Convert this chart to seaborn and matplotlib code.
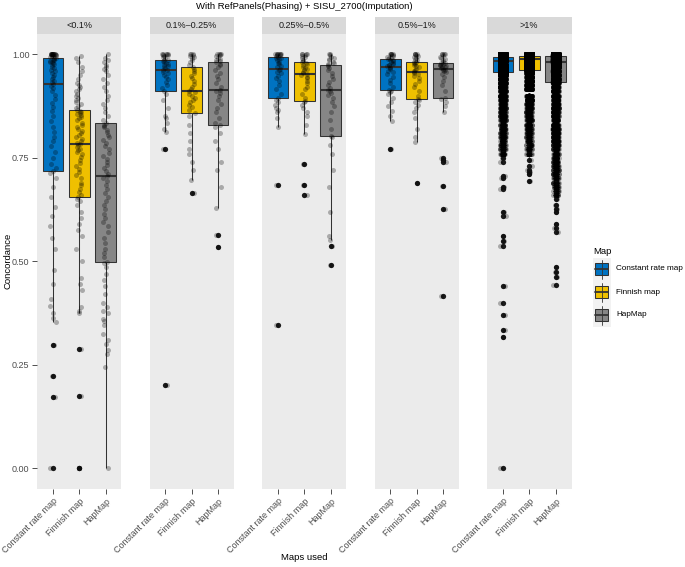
import numpy as np
import pandas as pd
import matplotlib
matplotlib.use("Agg")
import matplotlib.pyplot as plt
import seaborn as sns
from matplotlib.patches import Rectangle
from matplotlib.lines import Line2D

# ---------------- data ----------------
maps = ["Constant rate map", "Finnish map", "HapMap"]
freq_bins = ["<0.1%", "0.1%\u20130.25%", "0.25%\u20130.5%", "0.5%\u20131%", ">1%"]
colors = ["#0073C2", "#EFC000", "#868686"]

# <0.1%
p1_const = [0.0, 0.172, 0.224, 0.297,
            0.353, 0.362, 0.375, 0.392, 0.41, 0.445, 0.48, 0.53, 0.555, 0.585, 0.61, 0.63, 0.655, 0.68, 0.70, 0.712,
            0.718,
            0.725, 0.735, 0.75, 0.765, 0.778, 0.79, 0.80, 0.812, 0.825, 0.838, 0.85, 0.862, 0.872, 0.882, 0.892, 0.902, 0.91, 0.918, 0.924,
            0.929,
            0.932, 0.936, 0.94, 0.945, 0.95, 0.955, 0.96, 0.963, 0.966, 0.97, 0.973, 0.976, 0.978, 0.98, 0.982, 0.984, 0.986, 0.987, 0.988,
            0.99,
            0.992, 0.994, 0.995, 0.996, 0.997, 0.998, 0.999, 1.0, 1.0, 1.0, 1.0, 1.0, 1.0, 1.0, 1.0, 1.0, 1.0, 1.0, 1.0, 1.0]
p1_finn = [0.0, 0.0, 0.175, 0.287,
           0.376, 0.38, 0.39, 0.43, 0.445, 0.46, 0.5, 0.53, 0.56, 0.575, 0.59, 0.605, 0.62, 0.635, 0.645, 0.65,
           0.655,
           0.66, 0.668, 0.675, 0.683, 0.69, 0.70, 0.708, 0.715, 0.722, 0.73, 0.737, 0.745, 0.752, 0.758, 0.763, 0.768, 0.772, 0.776, 0.78,
           0.783,
           0.786, 0.79, 0.795, 0.80, 0.805, 0.81, 0.815, 0.82, 0.825, 0.83, 0.835, 0.84, 0.845, 0.849, 0.853, 0.856, 0.859, 0.861, 0.863,
           0.865,
           0.87, 0.875, 0.88, 0.885, 0.89, 0.895, 0.90, 0.905, 0.91, 0.915, 0.92, 0.925, 0.93, 0.94, 0.95, 0.96, 0.97, 0.98, 0.99, 0.995]
p1_hap = [0.0, 0.245, 0.275, 0.285, 0.30, 0.31, 0.325, 0.345, 0.355, 0.36, 0.375, 0.38, 0.39, 0.40, 0.42, 0.44, 0.455, 0.47, 0.485, 0.495,
          0.499,
          0.51, 0.52, 0.53, 0.545, 0.555, 0.57, 0.585, 0.595, 0.605, 0.615, 0.625, 0.635, 0.645, 0.655, 0.665, 0.675, 0.685, 0.693, 0.70,
          0.705,
          0.71, 0.718, 0.725, 0.733, 0.74, 0.748, 0.755, 0.762, 0.77, 0.778, 0.785, 0.792, 0.80, 0.806, 0.812, 0.818, 0.823, 0.827, 0.83,
          0.833,
          0.84, 0.85, 0.86, 0.87, 0.88, 0.89, 0.90, 0.91, 0.92, 0.93, 0.94, 0.95, 0.96, 0.965, 0.97, 0.975, 0.98, 0.985, 0.99, 1.0]

# 0.1%-0.25%
p2_const = [0.2, 0.771, 0.811, 0.82, 0.835, 0.845, 0.85, 0.87, 0.89, 0.905, 0.911,
            0.918, 0.925, 0.932, 0.94, 0.945, 0.95, 0.955, 0.958, 0.961, 0.963,
            0.966, 0.969, 0.972, 0.975, 0.977, 0.979, 0.981, 0.983, 0.985, 0.986,
            0.99, 0.993, 0.995, 0.997, 0.998, 1.0, 1.0, 1.0, 1.0, 1.0]
p2_finn = [0.664, 0.696, 0.72, 0.74, 0.76, 0.77, 0.79, 0.81, 0.83, 0.85, 0.858,
           0.865, 0.872, 0.878, 0.885, 0.89, 0.895, 0.90, 0.905, 0.908, 0.911,
           0.916, 0.922, 0.928, 0.935, 0.942, 0.948, 0.955, 0.96, 0.965, 0.969,
           0.975, 0.98, 0.985, 0.99, 0.993, 0.995, 0.997, 1.0, 1.0, 1.0]
p2_hap = [0.535, 0.564, 0.628, 0.68, 0.72, 0.74, 0.77, 0.79, 0.81, 0.825, 0.829,
          0.835, 0.845, 0.86, 0.87, 0.88, 0.89, 0.90, 0.906, 0.91, 0.914,
          0.92, 0.93, 0.94, 0.948, 0.955, 0.962, 0.968, 0.973, 0.977, 0.98,
          0.983, 0.986, 0.989, 0.992, 0.995, 0.997, 1.0, 1.0, 1.0, 1.0]

# 0.25%-0.5%
p3_const = [0.346, 0.684, 0.825, 0.845, 0.86, 0.865, 0.87, 0.878, 0.885, 0.89, 0.894,
            0.905, 0.915, 0.925, 0.935, 0.942, 0.948, 0.954, 0.958, 0.962, 0.965,
            0.968, 0.972, 0.976, 0.979, 0.982, 0.985, 0.988, 0.99, 0.992, 0.993,
            0.995, 0.997, 0.998, 1.0, 1.0, 1.0, 1.0, 1.0, 1.0, 1.0]
p3_finn = [0.66, 0.684, 0.736, 0.807, 0.83, 0.85, 0.86, 0.87, 0.878, 0.884, 0.888,
           0.895, 0.905, 0.915, 0.922, 0.93, 0.936, 0.942, 0.946, 0.95, 0.952,
           0.955, 0.958, 0.961, 0.964, 0.967, 0.97, 0.973, 0.976, 0.979, 0.981,
           0.984, 0.987, 0.99, 0.993, 0.995, 0.997, 1.0, 1.0, 1.0, 1.0]
p3_hap = [0.49, 0.536, 0.551, 0.56, 0.62, 0.68, 0.72, 0.76, 0.78, 0.80, 0.803,
          0.82, 0.84, 0.86, 0.875, 0.885, 0.895, 0.902, 0.907, 0.91, 0.913,
          0.918, 0.925, 0.932, 0.94, 0.948, 0.955, 0.962, 0.967, 0.971, 0.973,
          0.976, 0.979, 0.982, 0.985, 0.988, 0.991, 0.994, 0.997, 1.0, 1.0]

# 0.5%-1%
p4_const = [0.771, 0.839, 0.85, 0.862, 0.875, 0.885, 0.895, 0.903, 0.908, 0.912, 0.914,
            0.922, 0.93, 0.938, 0.945, 0.951, 0.956, 0.96, 0.964, 0.967, 0.969,
            0.971, 0.973, 0.975, 0.977, 0.979, 0.981, 0.983, 0.985, 0.987, 0.988,
            0.99, 0.992, 0.994, 0.996, 0.998, 1.0, 1.0, 1.0, 1.0, 1.0]
p4_finn = [0.688, 0.789, 0.80, 0.82, 0.845, 0.86, 0.87, 0.878, 0.885, 0.89, 0.892,
           0.90, 0.91, 0.92, 0.928, 0.935, 0.942, 0.948, 0.952, 0.954, 0.956,
           0.959, 0.962, 0.965, 0.968, 0.971, 0.974, 0.977, 0.979, 0.981, 0.982,
           0.985, 0.988, 0.99, 0.993, 0.995, 0.997, 1.0, 1.0, 1.0, 1.0]
p4_hap = [0.416, 0.626, 0.681, 0.74, 0.745, 0.75, 0.861, 0.875, 0.885, 0.892, 0.895,
          0.91, 0.925, 0.935, 0.945, 0.952, 0.956, 0.959, 0.961, 0.963, 0.964,
          0.966, 0.968, 0.97, 0.972, 0.973, 0.974, 0.975, 0.976, 0.978, 0.979,
          0.982, 0.985, 0.988, 0.991, 0.994, 0.997, 1.0, 1.0, 1.0, 1.0]

# >1%  (many sites: distinct concordance values and how many sites have each)
p5_const_vals = [0.0, 0.316, 0.333, 0.37, 0.398, 0.44, 0.537, 0.55, 0.561, 0.61, 0.618, 0.674, 0.68, 0.70, 0.706, 0.74, 0.75,
                 0.76, 0.77, 0.78, 0.79, 0.80, 0.81, 0.82, 0.83, 0.84, 0.85, 0.86, 0.87, 0.88, 0.89,
                 0.90, 0.91, 0.92, 0.93, 0.94, 0.95,
                 0.956, 0.96, 0.965, 0.97, 0.975, 0.98, 0.984, 0.988, 0.991, 0.994, 0.997, 1.0]
p5_const_counts = [1, 1, 1, 1, 1, 1, 1, 1, 1, 1, 1, 1, 1, 1, 1, 1, 1,
                   12, 12, 16, 16, 20, 20, 24, 24, 28, 28, 32, 36, 40, 48,
                   52, 64, 76, 88, 104, 120,
                   180, 160, 200, 240, 240, 40, 120, 320, 320, 320, 320, 612]
p5_finn_vals = [0.694, 0.71, 0.715, 0.72, 0.73, 0.745,
                0.76, 0.77, 0.78, 0.79, 0.80, 0.81, 0.82, 0.83, 0.84, 0.85, 0.86, 0.87, 0.88, 0.89, 0.90,
                0.915, 0.925, 0.935, 0.945, 0.955,
                0.962, 0.968, 0.974, 0.979, 0.984, 0.988, 0.991, 0.993, 0.996, 0.998, 1.0]
p5_finn_counts = [1, 1, 1, 1, 1, 1,
                  8, 12, 12, 16, 16, 20, 20, 24, 24, 28, 32, 36, 40, 44, 48,
                  60, 72, 88, 104, 120,
                  200, 240, 240, 240, 200, 160, 320, 320, 320, 320, 592]
p5_hap_vals = [0.443, 0.461, 0.475, 0.486, 0.57, 0.58, 0.59, 0.62, 0.625, 0.635, 0.65,
               0.66, 0.67, 0.68, 0.69, 0.70, 0.71, 0.72, 0.73, 0.74, 0.75, 0.76, 0.77, 0.78, 0.79, 0.80, 0.81, 0.82, 0.83, 0.84,
               0.85, 0.86, 0.87, 0.88, 0.89, 0.90, 0.91, 0.92, 0.93,
               0.934, 0.94, 0.95, 0.96, 0.97, 0.977, 0.982, 0.986, 0.99, 0.993, 0.996, 0.998, 1.0]
p5_hap_counts = [1, 1, 1, 1, 1, 1, 1, 1, 1, 1, 1,
                 8, 8, 12, 12, 12, 16, 16, 16, 20, 20, 24, 24, 28, 32, 36, 40, 44, 48, 48,
                 40, 44, 48, 48, 52, 56, 56, 60, 64,
                 80, 120, 160, 200, 240, 200, 160, 280, 280, 200, 200, 320, 584]

panels = [
    [p1_const, p1_finn, p1_hap],
    [p2_const, p2_finn, p2_hap],
    [p3_const, p3_finn, p3_hap],
    [p4_const, p4_finn, p4_hap],
    [np.repeat(p5_const_vals, p5_const_counts),
     np.repeat(p5_finn_vals, p5_finn_counts),
     np.repeat(p5_hap_vals, p5_hap_counts)],
]
y_ticks = [0.0, 0.25, 0.5, 0.75, 1.0]
y_ticklabels = ["0.00", "0.25", "0.50", "0.75", "1.00"]

# ---------------- style / layout ----------------
sns.set_theme(style="white")
plt.rcParams['font.family'] = ['Liberation Sans', 'DejaVu Sans']

W, H = 685, 567
fig = plt.figure(figsize=(W / 100, H / 100), dpi=100)


def rect(left, top, w, h):
    return [left / W, 1 - (top + h) / H, w / W, h / H]


panel_lefts = [37, 149.5, 262, 374.5, 487]
panel_w = 84.5
panel_top = 33.5
panel_h = 455.5
strip_top = 17
strip_h = 16.5
tick_fs = 6.5

np.random.seed(7)
for i, (lab, data) in enumerate(zip(freq_bins, panels)):
    df = pd.DataFrame({
        "Map": np.concatenate([[m] * len(v) for m, v in zip(maps, data)]),
        "Concordance": np.concatenate([np.asarray(v, dtype=float) for v in data]),
    })
    ax = fig.add_axes(rect(panel_lefts[i], panel_top, panel_w, panel_h))
    ax.set_facecolor("#EBEBEB")
    sns.boxplot(data=df, x="Map", y="Concordance", hue="Map", order=maps, hue_order=maps,
                palette=colors, saturation=1, width=0.78, linewidth=0.75, linecolor="#333333",
                showcaps=False,
                flierprops=dict(marker="o", markersize=3.8, markerfacecolor="#1A1A1A",
                                markeredgecolor="#1A1A1A", markeredgewidth=0),
                medianprops=dict(linewidth=1.5, color="#333333"),
                legend=False, ax=ax)
    sns.stripplot(data=df, x="Map", y="Concordance", order=maps, color="black", alpha=0.28,
                  size=3.6, jitter=0.12, linewidth=0, ax=ax)
    ax.set_xlim(-0.6, 2.6)
    ax.set_ylim(-0.05, 1.05)
    ax.set_xlabel("")
    ax.set_ylabel("")
    for s in ax.spines.values():
        s.set_visible(False)
    ax.grid(False)
    ax.set_xticks([0, 1, 2])
    ax.set_xticklabels(maps, rotation=45, ha="right", rotation_mode="anchor",
                       fontsize=tick_fs, color="#4D4D4D")
    ax.tick_params(axis="x", length=3.5, width=0.6, color="#333333", pad=2, bottom=True)
    if i == 0:
        ax.set_yticks(y_ticks)
        ax.set_yticklabels(y_ticklabels, fontsize=tick_fs, color="#4D4D4D")
        ax.tick_params(axis="y", length=3.5, width=0.6, color="#333333", pad=2, left=True)
    else:
        ax.set_yticks(y_ticks)
        ax.tick_params(axis="y", left=False, labelleft=False)

    sax = fig.add_axes(rect(panel_lefts[i], strip_top, panel_w, strip_h))
    sax.set_facecolor("#D9D9D9")
    sax.set_xticks([])
    sax.set_yticks([])
    for s in sax.spines.values():
        s.set_visible(False)
    sax.text(0.5, 0.5, lab, ha="center", va="center", fontsize=tick_fs, color="#1A1A1A",
             transform=sax.transAxes)

center_x = (panel_lefts[0] + panel_lefts[-1] + panel_w) / 2
fig.text(center_x / W, 1 - 6.5 / H, "With RefPanels(Phasing) + SISU_2700(Imputation)",
         ha="center", va="center", fontsize=6.8, color="black")
fig.text(center_x / W, 1 - 557 / H, "Maps used", ha="center", va="center", fontsize=6.8, color="black")
fig.text(8 / W, 1 - (panel_top + panel_h / 2) / H, "Concordance", rotation=90,
         ha="center", va="center", fontsize=6.8, color="black")

# ---------------- legend ----------------
lax = fig.add_axes([0, 0, 1, 1])
lax.set_xlim(0, W)
lax.set_ylim(H, 0)
lax.axis("off")
lax.patch.set_alpha(0)
lax.text(593, 252, "Map", ha="left", va="center", fontsize=6.8, color="black")
row_h = 23
y0 = 269
for k, (m, c) in enumerate(zip(maps, colors)):
    cy = y0 + k * row_h
    lax.add_patch(Rectangle((593, cy - row_h / 2), 18, row_h, facecolor="#F2F2F2", edgecolor="none"))
    lax.add_line(Line2D([602, 602], [cy - 9.5, cy + 9.5], color="#333333", lw=0.6))
    lax.add_patch(Rectangle((595.5, cy - 6), 13, 12, facecolor=c, edgecolor="#333333", lw=0.75))
    lax.add_line(Line2D([595.5, 608.5], [cy, cy], color="#333333", lw=1.3))
    lax.text(616, cy, m, ha="left", va="center", fontsize=5.9, color="black")

fig.savefig("out.png", dpi=100)
